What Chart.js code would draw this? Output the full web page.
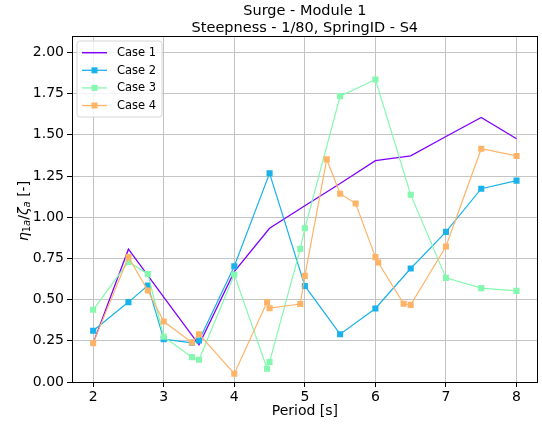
<!DOCTYPE html>
<html>
<head>
<meta charset="utf-8">
<script src="https://cdn.jsdelivr.net/npm/chart.js@4.4.0/dist/chart.umd.min.js"></script>
<style>
html,body{margin:0;padding:0;background:#fff;}
#c{display:block;}
</style>
</head>
<body>
<canvas id="c" width="542" height="427"></canvas>
<script>
// ---- data ----
const titleLines = ["Surge - Module 1", "Steepness - 1/80, SpringID - S4"];
const xLabel = "Period [s]";
const seriesNames = ["Case 1", "Case 2", "Case 3", "Case 4"];
const seriesColors = ["#8000ff", "#1ab2ea", "#84f8ae", "#ffb366"];

const case1X = [2, 2.5, 3, 3.5, 4, 4.5, 5, 5.5, 6, 6.5, 7, 7.5, 8];
const case1Y = [0.236, 0.806, 0.515, 0.226, 0.67, 0.933, 1.07, 1.205, 1.343, 1.373, 1.49, 1.606, 1.476];

const case2X = [2, 2.5, 2.775, 3, 3.4, 3.5, 4, 4.5, 5, 5.5, 6, 6.5, 7, 7.5, 8];
const case2Y = [0.311, 0.485, 0.586, 0.26, 0.238, 0.252, 0.703, 1.267, 0.583, 0.29, 0.446, 0.689, 0.911, 1.173, 1.222];

const case3X = [2, 2.5, 2.775, 3, 3.4, 3.5, 4, 4.465, 4.5, 4.935, 5, 5.5, 6, 6.5, 7, 7.5, 8];
const case3Y = [0.438, 0.729, 0.656, 0.275, 0.151, 0.135, 0.652, 0.08, 0.121, 0.808, 0.933, 1.735, 1.836, 1.137, 0.632, 0.57, 0.553];

const case4X = [2, 2.5, 2.775, 3, 3.4, 3.5, 4, 4.465, 4.5, 4.935, 5, 5.31, 5.5, 5.72, 6, 6.04, 6.4, 6.5, 7, 7.5, 8];
const case4Y = [0.236, 0.758, 0.555, 0.367, 0.24, 0.29, 0.05, 0.485, 0.448, 0.473, 0.644, 1.351, 1.143, 1.083, 0.758, 0.725, 0.475, 0.468, 0.822, 1.416, 1.372];

const xTicks = [2, 3, 4, 5, 6, 7, 8];
const yTicks = [0, 0.25, 0.5, 0.75, 1.0, 1.25, 1.5, 1.75, 2.0];
const xRange = [1.7, 8.3];
const yRange = [0, 2.1];

// ---- chart ----
const FONT = "'DejaVu Sans', sans-serif";
function pts(xs, ys){ return xs.map((x,i)=>({x:x, y:ys[i]})); }
const allX = [case1X, case2X, case3X, case4X];
const allY = [case1Y, case2Y, case3Y, case4Y];
const markers = [false, true, true, true];

const datasets = seriesNames.map((name, i) => ({
  label: name,
  data: pts(allX[i], allY[i]),
  borderColor: seriesColors[i],
  backgroundColor: seriesColors[i],
  borderWidth: i === 0 ? 1.3 : 1.2,
  pointStyle: 'rect',
  pointRadius: markers[i] ? 4.3 : 0,
  pointBorderWidth: 0,
  pointBackgroundColor: seriesColors[i],
  tension: 0,
  order: 4 - i
}));

function drawRich(ctx, parts, x, y) {
  let total = 0;
  parts.forEach(p => {
    ctx.font = (p.italic ? 'italic ' : '') + p.size + 'px ' + FONT;
    p.w = ctx.measureText(p.t).width + (p.gap || 0);
    total += p.w;
  });
  let cx = x - total / 2;
  parts.forEach(p => {
    ctx.font = (p.italic ? 'italic ' : '') + p.size + 'px ' + FONT;
    ctx.fillText(p.t, cx, y + (p.dy || 0));
    cx += p.w;
  });
}

const decor = {
  id: 'decor',
  afterDraw(chart) {
    const ctx = chart.ctx;
    const a = chart.chartArea;
    ctx.save();
    // spines
    ctx.strokeStyle = '#000';
    ctx.lineWidth = 1;
    ctx.strokeRect(Math.round(a.left) + 0.5, Math.round(a.top) + 0.5,
                   Math.round(a.right - a.left) - 1, Math.round(a.bottom - a.top));
    // title
    const cx = (a.left + a.right) / 2;
    ctx.fillStyle = '#000';
    ctx.textAlign = 'center';
    ctx.textBaseline = 'middle';
    ctx.font = '14.5px ' + FONT;
    ctx.fillText(titleLines[0], cx, 11.5);
    ctx.fillText(titleLines[1], cx, 28);
    // x label
    ctx.font = '14px ' + FONT;
    ctx.fillText(xLabel, cx, 411);
    // y label (rich, rotated)
    ctx.save();
    ctx.translate(24, 211);
    ctx.rotate(-Math.PI / 2);
    ctx.textAlign = 'left';
    ctx.textBaseline = 'middle';
    drawRich(ctx, [
      {t: 'η', size: 14, italic: true},
      {t: '1', size: 10, dy: 3},
      {t: 'a', size: 10, italic: true, dy: 3},
      {t: '/', size: 14},
      {t: 'ζ', size: 14, italic: true},
      {t: 'a', size: 10, italic: true, dy: 3},
      {t: ' [-]', size: 14}
    ], 0, 0);
    ctx.restore();
    // legend
    const lx = 77, ly = 41, lw = 85, lh = 76, r = 3;
    ctx.beginPath();
    ctx.moveTo(lx + r, ly);
    ctx.lineTo(lx + lw - r, ly); ctx.arcTo(lx + lw, ly, lx + lw, ly + r, r);
    ctx.lineTo(lx + lw, ly + lh - r); ctx.arcTo(lx + lw, ly + lh, lx + lw - r, ly + lh, r);
    ctx.lineTo(lx + r, ly + lh); ctx.arcTo(lx, ly + lh, lx, ly + lh - r, r);
    ctx.lineTo(lx, ly + r); ctx.arcTo(lx, ly, lx + r, ly, r);
    ctx.closePath();
    ctx.fillStyle = 'rgba(255,255,255,0.8)';
    ctx.fill();
    ctx.strokeStyle = '#d6d6d6';
    ctx.lineWidth = 1;
    ctx.stroke();
    ctx.font = '11.5px ' + FONT;
    ctx.textAlign = 'left';
    ctx.textBaseline = 'middle';
    seriesNames.forEach((name, i) => {
      const y = 52.7 + i * 17.6;
      ctx.strokeStyle = seriesColors[i];
      ctx.lineWidth = i === 0 ? 1.5 : 1.3;
      ctx.beginPath();
      ctx.moveTo(82, y); ctx.lineTo(107, y);
      ctx.stroke();
      if (markers[i]) {
        ctx.fillStyle = seriesColors[i];
        ctx.fillRect(94.5 - 3, y - 3, 6, 6);
      }
      ctx.fillStyle = '#000';
      ctx.fillText(name, 117, y + 0.5);
    });
    ctx.restore();
  }
};

new Chart(document.getElementById('c'), {
  type: 'line',
  data: { datasets: datasets },
  plugins: [decor],
  options: {
    responsive: false,
    animation: false,
    devicePixelRatio: 1,
    layout: { padding: { top: 36, left: 0, right: 2, bottom: 0 } },
    plugins: { legend: { display: false }, tooltip: { enabled: false }, title: { display: false } },
    scales: {
      x: {
        type: 'linear',
        min: xRange[0], max: xRange[1],
        afterBuildTicks: s => { s.ticks = xTicks.map(v => ({value: v})); },
        afterFit: s => { s.height = 45; },
        grid: { color: '#c4c4c4', lineWidth: 1, tickColor: '#000', tickLength: 5, drawTicks: true },
        border: { display: false },
        ticks: { color: '#000', font: { family: FONT, size: 14 }, padding: 2, maxRotation: 0,
                 callback: v => String(v) }
      },
      y: {
        type: 'linear',
        min: yRange[0], max: yRange[1],
        afterBuildTicks: s => { s.ticks = yTicks.map(v => ({value: v})); },
        afterFit: s => { s.width = 72; },
        grid: { color: '#c4c4c4', lineWidth: 1, tickColor: '#000', tickLength: 5, drawTicks: true },
        border: { display: false },
        ticks: { color: '#000', font: { family: FONT, size: 14 }, padding: 3,
                 callback: v => Number(v).toFixed(2) }
      }
    }
  }
});
</script>
</body>
</html>
